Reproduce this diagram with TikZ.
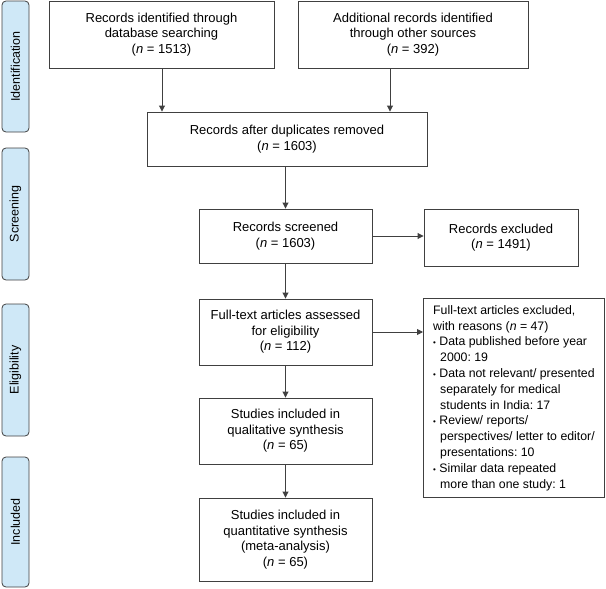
\documentclass[tikz,border=0pt]{standalone}
\usepackage{fontspec}
\setmainfont{Liberation Sans}
\usetikzlibrary{arrows.meta}
\definecolor{side}{HTML}{CFE8F7}
\definecolor{ln}{HTML}{404040}
\begin{document}
\frenchspacing
\begin{tikzpicture}[x=1pt,y=-1pt,
  box/.style={draw=ln,line width=0.9pt,align=center,inner sep=0pt,font=\fontsize{13}{15.5}\selectfont},
  sidel/.style={draw=ln,fill=side,rounded corners=4pt,line width=0.8pt,minimum width=27pt,inner sep=0pt,font=\fontsize{12.5}{14}\selectfont},
  arr/.style={draw=ln,line width=0.9pt,-{Triangle[length=6pt,width=6pt]}}]
\useasboundingbox (0,0) rectangle (606,589);
\def\bx#1#2#3#4#5#6{\node[box,minimum width=#4-#2,minimum height=#5-#3] (#1) at ({(#2+#4)/2},{(#3+#5)/2}) {#6};}
\node[sidel,minimum height=131pt] (s1) at (15.5,66.5) {\rotatebox{90}{Identification}};
\node[sidel,minimum height=132pt] (s2) at (15.5,214) {\rotatebox{90}{Screening}};
\node[sidel,minimum height=132pt] (s3) at (15.5,370) {\rotatebox{90}{Eligibility}};
\node[sidel,minimum height=130pt] (s4) at (15.5,522) {\rotatebox{90}{Included}};
\bx{a}{49}{1}{274}{68}{Records identified through\\database searching\\(\textit{n} = 1513)}
\bx{b}{298}{1}{528}{68}{Additional records identified\\through other sources\\(\textit{n} = 392)}
\bx{c}{147}{112}{427}{166}{Records after duplicates removed\\(\textit{n} = 1603)}
\bx{d}{199}{209}{372}{263}{Records screened\\(\textit{n} = 1603)}
\bx{e}{424}{209}{578}{266}{Records excluded\\(\textit{n} = 1491)}
\bx{f}{199}{299}{372}{365}{Full-text articles assessed\\for eligibility\\(\textit{n} = 112)}
\bx{g}{199}{398}{372}{464}{Studies included in\\qualitative synthesis\\(\textit{n} = 65)}
\bx{h}{199}{498}{372}{581}{Studies included in\\quantitative synthesis\\(meta-analysis)\\(\textit{n} = 65)}
\node[box,font=\fontsize{12.3}{15.8}\selectfont,minimum width=181pt,minimum height=199pt,anchor=north west,align=left] (i) at (423,298) {%
Full-text articles excluded,\\with reasons (\textit{n} = 47)\\
{\footnotesize\textbullet}\ Data published before year\\\hspace*{7pt}2000: 19\\
{\footnotesize\textbullet}\ Data not relevant/ presented\\\hspace*{7pt}separately for medical\\\hspace*{7pt}students in India: 17\\
{\footnotesize\textbullet}\ Review/ reports/\\\hspace*{7pt}perspectives/ letter to editor/\\\hspace*{7pt}presentations: 10\\
{\footnotesize\textbullet}\ Similar data repeated\\\hspace*{7pt}more than one study: 1};
\draw[arr] (a.south -| 162,0) -- (c.north -| 162,0);
\draw[arr] (b.south -| 390,0) -- (c.north -| 390,0);
\draw[arr] (c.south -| d.north) -- (d.north);
\draw[arr] (d.east) -- (d.east -| e.west);
\draw[arr] (d) -- (f);
\draw[arr] (f.east) -- (f.east -| i.west);
\draw[arr] (f) -- (g);
\draw[arr] (g) -- (h);
\end{tikzpicture}
\end{document}
